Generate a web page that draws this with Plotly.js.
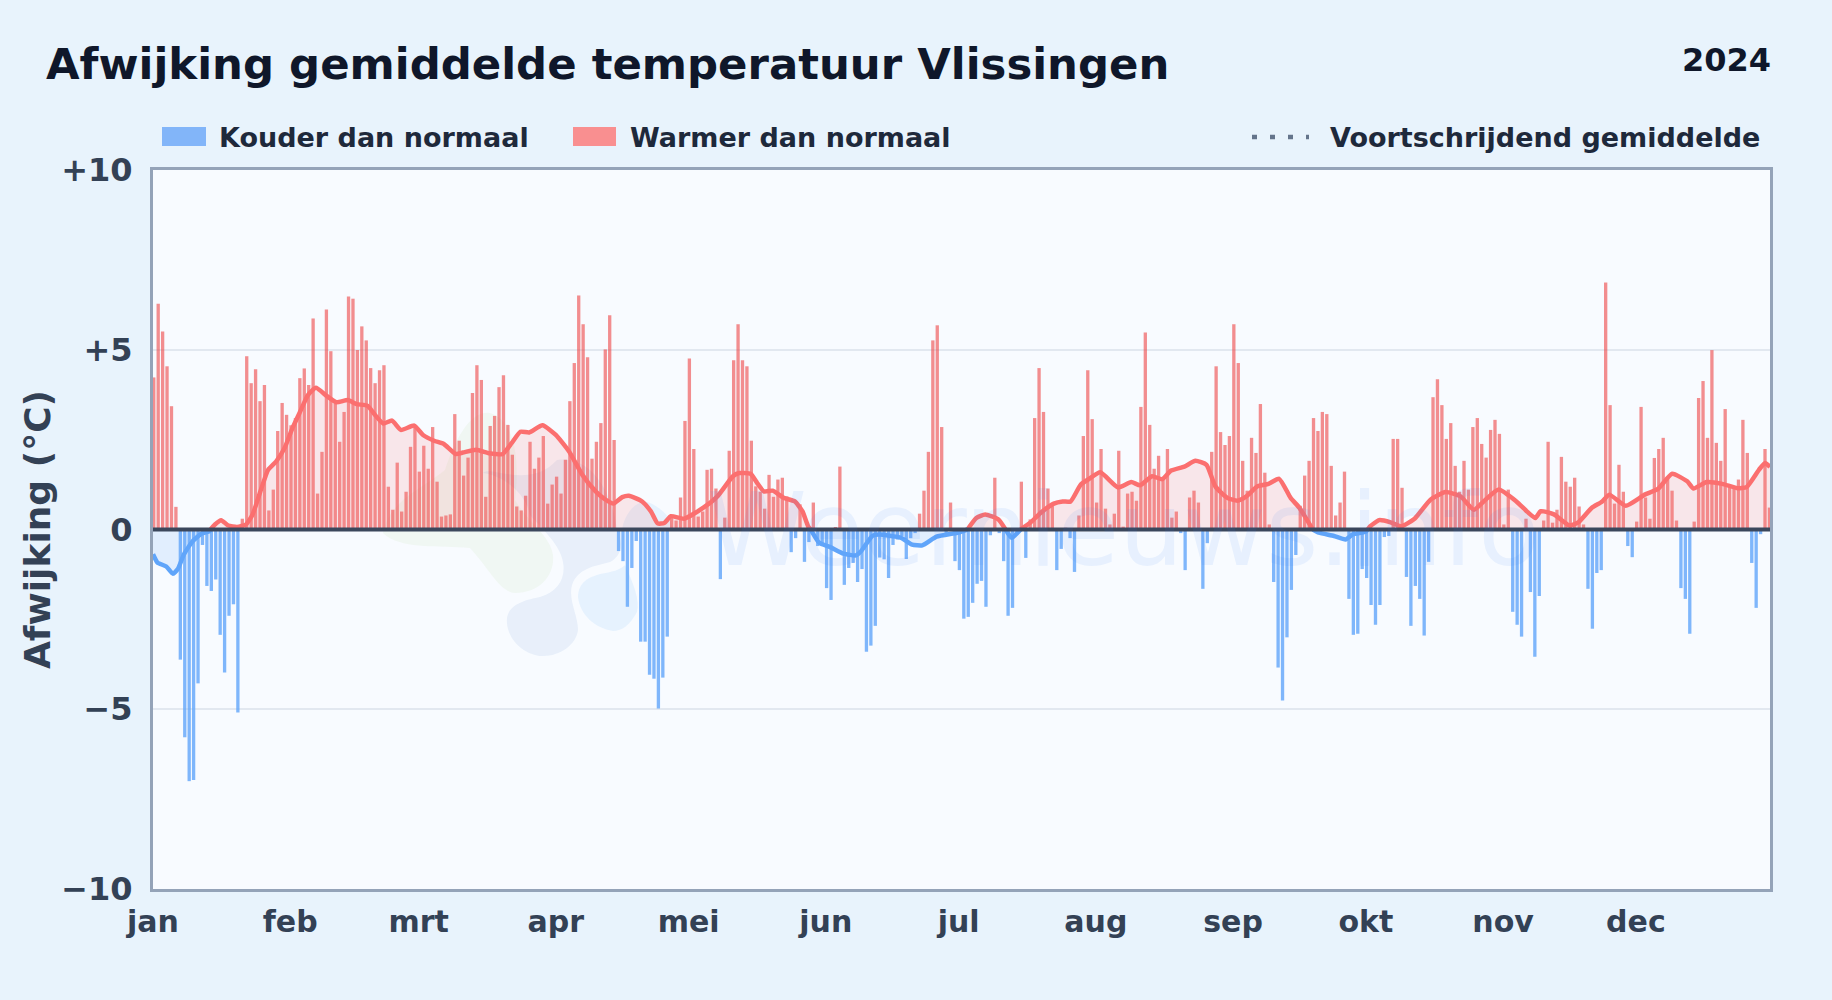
<!DOCTYPE html>
<html><head><meta charset="utf-8">
<script src="https://cdn.plot.ly/plotly-3.0.1.min.js"></script>
<style>html,body{margin:0;padding:0;background:#e8f3fc}#c{width:1832px;height:1000px}</style>
</head><body><div id="c"></div>
<script>
const chartTitle = "Afwijking gemiddelde temperatuur Vlissingen";
const yearLabel = "2024";
const yTitle = "Afwijking (°C)";
const coldLabel = "Kouder dan normaal";
const warmLabel = "Warmer dan normaal";
const avgLabel = "Voortschrijdend gemiddelde";
const watermark = "Weernieuws.info";
const monthDays = [0,31,60,91,121,152,182,213,244,274,305,335];
const monthLabels = ["jan","feb","mrt","apr","mei","jun","jul","aug","sep","okt","nov","dec"];
const yTicks = [-10,-5,0,5,10];
const yTickLabels = ["−10","−5","0","+5","+10"];

// daily anomaly, one value per day of 2024
const anomaly = [
4.23,6.28,5.51,4.54,3.43,0.63,-3.62,-5.78,-7.0,-6.97,-4.28,-0.43,-1.57,-1.71,-1.39,-2.93,-3.98,-2.40,-2.08,-5.09,
0.30,4.82,4.07,4.46,3.57,4.02,0.53,1.11,2.74,3.52,3.19,2.9,3.1,4.21,4.48,4.02,5.87,1.0,2.16,6.12,
4.96,3.5,2.44,3.27,6.48,6.42,4.99,5.65,5.26,4.49,4.07,4.43,4.57,1.19,0.55,1.86,0.5,1.05,2.3,2.9,
1.61,2.33,1.69,2.85,1.33,0.36,0.39,0.42,3.21,2.47,1.5,2.0,3.8,4.57,4.16,0.91,2.88,3.16,3.96,4.29,
2.91,2.08,0.64,0.53,0.94,2.44,1.69,2.0,2.6,0.72,1.25,1.47,1.0,1.94,3.57,4.63,6.51,5.71,4.79,1.97,
2.44,2.96,5.01,5.96,2.49,-0.6,-0.88,-2.15,-1.07,-0.32,-3.12,-3.12,-4.04,-4.15,-4.98,-4.12,-2.98,0.39,0.25,0.89,
3.02,4.76,2.24,0.36,0.5,1.66,1.69,1.14,-1.38,0.33,2.19,4.71,5.71,4.71,4.54,2.47,1.2,1.05,0.58,1.52,
0.91,1.39,1.44,0.92,-0.63,-0.24,0.7,-0.9,-0.35,0.75,-0.46,-0.4,-1.63,-1.96,0.07,1.75,-1.54,-1.07,-0.93,-1.46,
-1.1,-3.4,-3.23,-2.68,-0.78,-0.83,-1.35,-0.43,-0.28,-0.18,-0.82,-0.24,-0.1,0.44,1.08,2.16,5.26,5.68,2.85,-0.18,
0.75,-0.88,-1.13,-2.48,-2.43,-2.04,-1.51,-1.43,-2.15,-0.16,1.44,-0.1,-0.88,-2.4,-2.18,-0.1,1.33,-0.79,0.28,3.1,
4.49,3.27,1.14,0.65,-1.13,-0.54,0.05,-0.24,-1.18,0.39,2.6,4.43,3.07,0.75,2.24,0.58,0.14,0.44,2.19,0.08,
1.0,1.05,0.8,3.41,5.48,2.91,1.69,2.05,1.4,2.24,0.33,0.5,-0.1,-1.13,0.89,1.08,0.75,-1.65,-0.38,2.16,
4.54,2.71,2.35,2.6,5.71,4.63,1.91,1.08,2.55,2.13,3.49,1.58,0.14,-1.46,-3.84,-4.76,-3.0,-1.68,-0.71,0.66,
1.5,1.91,3.1,2.74,3.27,3.21,1.77,0.39,0.75,1.61,-1.93,-2.93,-2.9,-1.1,-1.35,-2.1,-2.65,-2.1,-0.21,-0.18,
2.52,2.52,1.16,-1.32,-2.68,-1.57,-1.93,-2.95,-0.9,3.68,4.18,3.46,2.52,2.96,1.77,1.05,1.91,1.11,2.85,3.1,
2.38,2.0,2.77,3.05,2.66,0.14,1.11,-2.29,-2.65,-2.98,0.3,-1.74,-3.54,-1.85,0.25,2.44,0.19,0.55,2.02,1.33,
1.19,1.44,0.64,0.14,-1.65,-2.76,-1.21,-1.13,6.87,3.46,0.72,1.8,1.05,-0.46,-0.77,0.22,3.41,0.89,0.3,1.99,
2.24,2.55,1.4,1.08,0.25,-1.63,-1.93,-2.9,0.22,3.66,4.13,2.55,4.99,2.41,1.91,3.35,1.2,1.15,1.39,3.05,
2.13,-0.93,-2.18,-0.13,2.24,0.61];

// moving average, read at these days
const avgDays = [0,1,3,4.5,5.6,7,9,11,12.7,13,14,15.4,17,19,21,22.5,24.4,26,27.8,29.7,31.5,33.4,35,36.8,39,41.4,44,46,48.5,50,52,54,56,59,61,63.5,65.7,68.4,70,73,76,79,81,83,85,88,91,94,97,100,102,104,106,107.5,110.5,112.5,114,115.5,117,120,124.5,127.5,131,132.4,135,136.5,138,140,142.5,145,146.7,148,148.6,149,150.5,153,156,158.8,160,162.5,164,169,171.5,173.8,177,181.7,184,186,188,191,192.6,194,196,198.3,200.5,203.5,205.5,207.3,209.6,211.5,214,218,221,223,225.7,228,230,233,235.5,238,240,242.7,245,247,249.5,252,254.4,257,259,262,263.4,266.8,269.4,271,274,274.4,275,277,279.6,282,285,288.6,292,295.4,298.4,300.6,304,308,310.5,312.3,313.5,316.5,320,322,325,327.4,329,332.7,337,340,343.2,346.6,348,351,354.5,357.9,360,362.8,364.2,365.3];
const avgValues = [-0.69,-0.92,-1.03,-1.23,-1.1,-0.69,-0.32,-0.11,-0.05,0,0.14,0.26,0.11,0.07,0.14,0.42,1.11,1.66,1.89,2.26,2.82,3.32,3.74,3.94,3.74,3.54,3.6,3.49,3.44,3.21,2.95,3.03,2.77,2.89,2.63,2.47,2.38,2.1,2.14,2.22,2.12,2.1,2.4,2.72,2.7,2.9,2.63,2.17,1.52,1.06,0.85,0.72,0.9,0.94,0.78,0.5,0.17,0.18,0.37,0.3,0.62,0.92,1.48,1.57,1.55,1.29,1.06,1.08,0.88,0.78,0.51,0.09,0,-0.09,-0.37,-0.49,-0.67,-0.72,-0.6,-0.18,-0.14,-0.23,-0.42,-0.44,-0.2,-0.09,0,0.32,0.42,0.28,0,-0.23,0,0.2,0.46,0.72,0.78,0.78,1.25,1.41,1.59,1.17,1.32,1.23,1.48,1.4,1.64,1.75,1.91,1.8,1.2,0.88,0.8,0.92,1.2,1.27,1.41,0.88,0.6,0,-0.09,-0.18,-0.28,-0.14,-0.06,0,0.09,0.26,0.2,0.09,0.3,0.83,1.04,0.92,0.55,0.78,1.11,0.78,0.49,0.32,0.51,0.42,0.11,0.2,0.6,0.78,0.97,0.66,0.97,1.13,1.55,1.34,1.14,1.32,1.27,1.15,1.18,1.66,1.85,1.74];

const days = anomaly.map((_, i) => i);
const coldDays = days.filter(i => anomaly[i] < 0);
const warmDays = days.filter(i => anomaly[i] >= 0);
const coldVals = coldDays.map(i => anomaly[i]);
const warmVals = warmDays.map(i => anomaly[i]);
const avgWarm = avgValues.map(v => v >= 0 ? v : null);
const avgCold = avgValues.map(v => v <= 0 ? v : null);

// plot frame in page pixels, for decoration placed by paper fractions
const L = 153, R = 1770, T = 170, B = 889, W = 1832, H = 1000;
const fx = x => (x - L) / (R - L);
const fy = y => 1 - (y - T) / (B - T);
const blob = s => s.replace(/(-?[\d.]+),(-?[\d.]+)/g, (m, a, b) => fx(+a) + "," + fy(+b));

const barCommon = {type:"bar", offset:-0.2, width:0.75, hoverinfo:"skip", showlegend:false};
const traces = [
  Object.assign({x:coldDays, y:coldVals, name:coldLabel, marker:{color:"#60a5fa", opacity:0.8, line:{width:0}}}, barCommon),
  Object.assign({x:warmDays, y:warmVals, name:warmLabel, marker:{color:"#ef4444", opacity:0.6, line:{width:0}}}, barCommon),
  {x:avgDays, y:avgWarm, type:"scatter", mode:"lines", name:avgLabel, showlegend:false, hoverinfo:"skip",
   connectgaps:false, line:{color:"#fb6f6f", width:4.5, shape:"spline", smoothing:0.5},
   fill:"tozeroy", fillcolor:"rgba(248,113,113,0.15)"},
  {x:avgDays, y:avgCold, type:"scatter", mode:"lines", name:avgLabel+" (koud)", showlegend:false, hoverinfo:"skip",
   connectgaps:false, line:{color:"#60a5fa", width:4.5, shape:"spline", smoothing:0.5},
   fill:"tozeroy", fillcolor:"rgba(96,165,250,0.15)"}
];

const fontFam = "DejaVu Sans, sans-serif";
const legendFont = {family:fontFam, size:27, color:"#1e293b", weight:700};
const note = (text, x, y, anchor, font) => ({text, x:fx(x), y:fy(y), xref:"paper", yref:"paper",
  xanchor:anchor, yanchor:"middle", showarrow:false, font});

const layout = {
  width:W, height:H,
  paper_bgcolor:"#e8f3fc", plot_bgcolor:"#f8fbff",
  margin:{l:L, r:W-R, t:T, b:H-B, pad:0},
  barmode:"overlay", showlegend:false,
  title:{text:chartTitle, x:46/W, xanchor:"left", xref:"container", y:1-64/H, yanchor:"middle", yref:"container",
         font:{family:fontFam, size:43.4, color:"#0f172a", weight:700}},
  xaxis:{range:[0,365.3], tickmode:"array", tickvals:monthDays, ticktext:monthLabels, showgrid:false, zeroline:false,
         showline:true, mirror:true, linecolor:"#94a3b8", linewidth:3, ticks:"", ticklabelstandoff:4,
         tickfont:{family:fontFam, size:30, color:"#334155", weight:700}},
  yaxis:{range:[-10,10], tickmode:"array", tickvals:yTicks, ticktext:yTickLabels, showgrid:true, gridcolor:"#e2e8f0", gridwidth:2,
         zeroline:false, showline:true, mirror:true, linecolor:"#94a3b8", linewidth:3, ticks:"", ticklabelstandoff:11,
         tickfont:{family:fontFam, size:32, color:"#334155", weight:700},
         title:{text:yTitle, standoff:0, font:{family:fontFam, size:36, color:"#334155", weight:700}}},
  shapes:[
    {type:"path", xref:"paper", yref:"paper", layer:"below", line:{width:0}, fillcolor:"rgba(170,215,120,0.09)",
     path:blob("M 383,533 C 400,550 440,545 470,548 C 490,570 500,592 515,593 C 540,593 555,575 553,555 C 550,535 530,525 515,500 C 520,460 515,420 490,413 C 470,410 455,440 445,470 C 420,490 390,500 383,533 Z")},
    {type:"path", xref:"paper", yref:"paper", layer:"below", line:{width:0}, fillcolor:"rgba(120,165,215,0.13)",
     path:blob("M 507,623 C 505,605 525,600 540,597 C 558,592 566,578 563,562 C 560,545 545,532 530,515 C 525,490 500,475 483,473 C 490,465 530,490 557,460 C 590,455 612,490 617,530 C 625,545 620,557 610,562 C 595,566 578,568 572,585 C 568,600 578,615 578,630 C 576,645 560,656 543,656 C 525,656 508,640 507,623 Z")},
    {type:"path", xref:"paper", yref:"paper", layer:"below", line:{width:0}, fillcolor:"rgba(110,185,245,0.12)",
     path:blob("M 578,597 C 578,585 585,578 600,574 C 612,572 620,570 625,565 C 634,585 640,600 637,612 C 630,625 622,631 613,631 C 595,628 580,615 578,597 Z")},
    {type:"path", xref:"paper", yref:"paper", layer:"below", line:{width:0}, fillcolor:"rgba(110,185,245,0.12)",
     path:blob("M 622,530 C 625,510 640,498 650,503 C 665,510 672,520 673,530 Z")},
    {type:"line", xref:"paper", yref:"y", x0:0, x1:1, y0:0, y1:0, layer:"above", line:{color:"#3b475c", width:4}},
    {type:"rect", xref:"paper", yref:"paper", x0:fx(162), x1:fx(206), y0:fy(146), y1:fy(127), line:{width:0}, fillcolor:"#82b5f9"},
    {type:"rect", xref:"paper", yref:"paper", x0:fx(573), x1:fx(616), y0:fy(146), y1:fy(127), line:{width:0}, fillcolor:"#f98f90"},
    {type:"line", xref:"paper", yref:"paper", x0:fx(1252), x1:fx(1309), y0:fy(137), y1:fy(137), line:{color:"#64748b", width:4.5, dash:"5px,13px"}}
  ],
  annotations:[
    note(yearLabel, 1773, 60, "right", {family:fontFam, size:32, color:"#0f172a", weight:700}),
    note(coldLabel, 217, 137, "left", legendFont),
    note(warmLabel, 628, 137, "left", legendFont),
    note(avgLabel, 1762, 137, "right", legendFont),
    note(watermark, 1123, 530, "center", {family:fontFam, size:101, color:"rgba(59,130,246,0.085)"})
  ]
};
Plotly.newPlot("c", traces, layout, {displayModeBar:false, staticPlot:true});
</script></body></html>
